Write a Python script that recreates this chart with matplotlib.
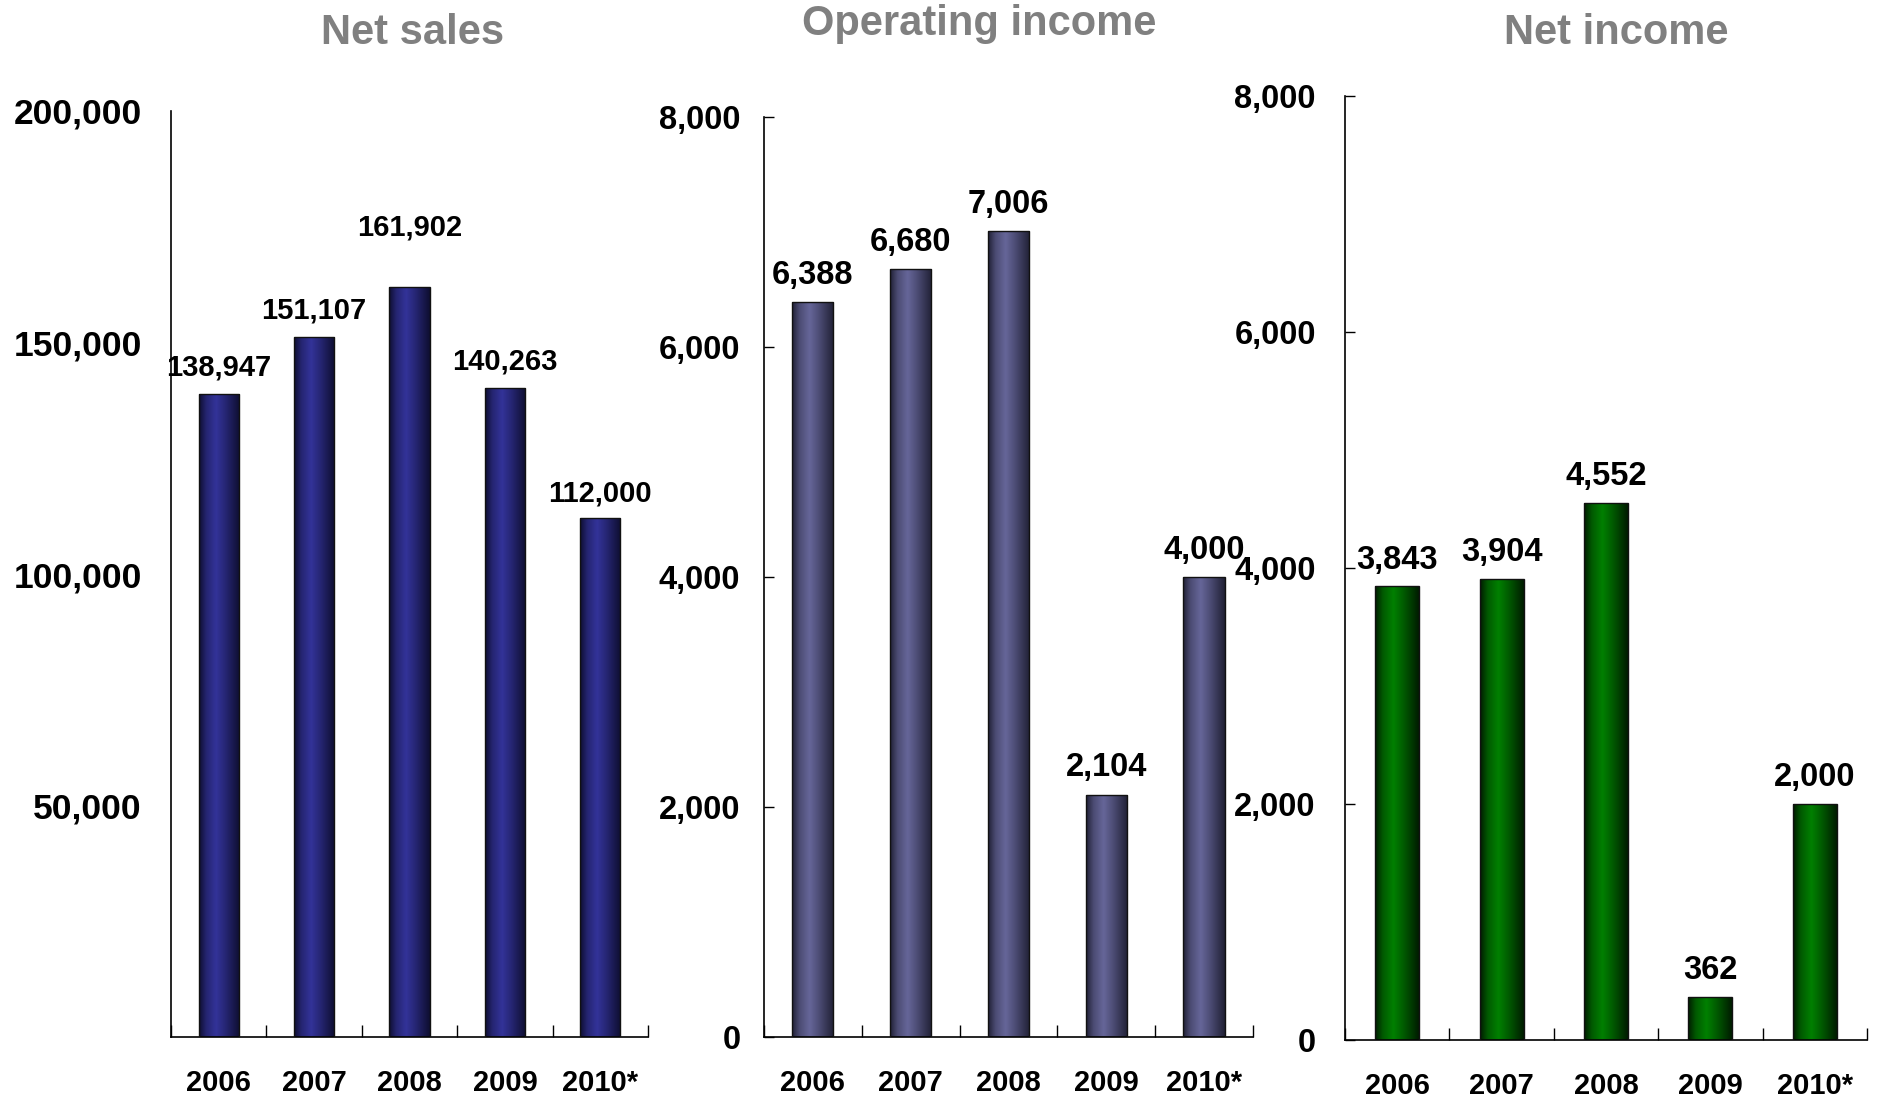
import numpy as np
import matplotlib.pyplot as plt
from matplotlib.colors import LinearSegmentedColormap

plt.rcParams['font.family'] = ['Liberation Sans', 'DejaVu Sans']
plt.rcParams['font.weight'] = 'bold'

# Datos
anios = ["2006", "2007", "2008", "2009", "2010*"]
ventas_netas = [138947, 151107, 161902, 140263, 112000]
resultado_operativo = [6388, 6680, 7006, 2104, 4000]
resultado_neto = [3843, 3904, 4552, 362, 2000]

ticks_ventas = [50000, 100000, 150000, 200000]
ticks_miles = [0, 2000, 4000, 6000, 8000]

titulos = ["Net sales", "Operating income", "Net income"]


def degradado(ax, barras, claro, oscuro):
    # relleno tipo cilindro: bordes oscuros, centro claro
    cmap = LinearSegmentedColormap.from_list("cil", [oscuro, claro])
    pos = np.linspace(0, 1, 200)
    perfil = np.interp(pos, [0, 0.18, 0.42, 0.66, 1], [0.0, 0.62, 1.0, 0.62, 0.0])
    for b in barras:
        x0, y0 = b.get_x(), b.get_y()
        img = ax.imshow(perfil[None, :], cmap=cmap, vmin=0, vmax=1, aspect="auto",
                        extent=[x0, x0 + b.get_width(), y0, y0 + b.get_height()],
                        interpolation="bicubic", zorder=2)
        img.set_clip_path(b)


def panel(rect, valores, ymax, yticks, claro, oscuro, tam_valor, desplaz, pad_y,
          ticks_y, tam_eje):
    ax = fig.add_axes(rect)
    x = np.arange(len(valores))
    barras = ax.bar(x, valores, width=0.42, color=claro, edgecolor="#111111",
                    linewidth=1, zorder=1)
    ax.set_xlim(-0.5, len(valores) - 0.5)
    ax.set_ylim(0, ymax)
    degradado(ax, barras, claro, oscuro)
    for b in barras:
        b.set_facecolor("none")
        b.set_zorder(3)
    ax.autoscale(False)

    for xi, v, d in zip(x, valores, desplaz):
        ax.annotate(f"{v:,}", (xi, v), xytext=(0, d), textcoords="offset points",
                    ha="center", va="center", fontsize=tam_valor, fontweight="bold")

    ax.spines["top"].set_visible(False)
    ax.spines["right"].set_visible(False)
    ax.spines["left"].set_linewidth(1.2)
    ax.spines["bottom"].set_linewidth(1.2)

    ax.set_yticks(yticks)
    ax.set_yticklabels([f"{t:,}" for t in yticks])
    ax.tick_params(axis="y", direction="in", length=7 if ticks_y else 0,
                   pad=pad_y, labelsize=tam_eje, width=1)
    ax.set_xticks(x)
    ax.set_xticklabels(anios)
    ax.tick_params(axis="x", length=0, pad=23, labelsize=21)
    ax.set_xticks(np.arange(len(valores) + 1) - 0.5, minor=True)
    ax.tick_params(axis="x", which="minor", direction="in", length=9, width=1)
    for lab in ax.get_xticklabels() + ax.get_yticklabels():
        lab.set_fontweight("bold")
    return ax


fig = plt.figure(figsize=(18.79, 10.99), dpi=100)

panel([0.0910, 0.0564, 0.2539, 0.8426], ventas_netas, 200000, ticks_ventas,
      "#333399", "#0e0e30", 21, [19, 19, 43, 19, 18], 21, False, 25.5)
panel([0.4066, 0.0564, 0.2602, 0.8372], resultado_operativo, 8000, ticks_miles,
      "#666699", "#202035", 23.5, [19, 19, 19, 20, 19], 17, True, 23.5)
panel([0.7158, 0.0537, 0.2778, 0.8590], resultado_neto, 8000, ticks_miles,
      "#008000", "#001c00", 23.5, [19, 19, 19, 19, 19], 21, True, 23.5)

for xc, yc, t in zip([0.2198, 0.521, 0.860], [0.970, 0.978, 0.970], titulos):
    fig.text(xc, yc, t, ha="center", va="center", fontsize=30,
             fontweight="bold", color="#808080")

fig.savefig("out.png", dpi=100)
